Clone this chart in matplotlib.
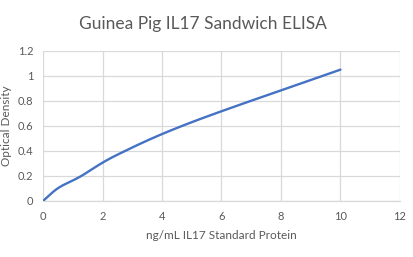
import matplotlib
matplotlib.use("Agg")
import matplotlib.pyplot as plt
import numpy as np

conc = [0, 0.3125, 0.625, 1.25, 2.5, 5, 10]
od = [0, 0.068, 0.12, 0.195, 0.37, 0.63, 1.05]
xticks = [0, 2, 4, 6, 8, 10, 12]
yticks = [0, 0.2, 0.4, 0.6, 0.8, 1, 1.2]
title = "Guinea Pig IL17 Sandwich ELISA"
xlabel = "ng/mL IL17 Standard Protein"
ylabel = "Optical Density"

plt.rcParams['font.family'] = ['Lato', 'DejaVu Sans']
gray = '#595959'
grid = '#d9d9d9'

def smooth(x, y, n=30):
    # Catmull-Rom style smoothing like Excel's smoothed line
    x = np.asarray(x, float); y = np.asarray(y, float)
    px = np.concatenate([[2*x[0]-x[1]], x, [2*x[-1]-x[-2]]])
    py = np.concatenate([[2*y[0]-y[1]], y, [2*y[-1]-y[-2]]])
    xs, ys = [], []
    for i in range(1, len(px)-2):
        p0, p1, p2, p3 = [np.array([px[j], py[j]]) for j in range(i-1, i+3)]
        c1 = p1 + (p2 - p0) / 6
        c2 = p2 - (p3 - p1) / 6
        t = np.linspace(0, 1, n)[:, None]
        b = (1-t)**3*p1 + 3*(1-t)**2*t*c1 + 3*(1-t)*t**2*c2 + t**3*p2
        xs.extend(b[:, 0]); ys.extend(b[:, 1])
    return xs, ys

fig = plt.figure(figsize=(4.14, 2.57), dpi=100)
ax = fig.add_axes([0.104, 0.218, 0.862, 0.584])
sx, sy = smooth(conc, od)
ax.plot(sx, sy, color='#4472C4', lw=1.7, solid_capstyle='round', zorder=3)
ax.set_xlim(0, 12)
ax.set_ylim(0, 1.2)
ax.set_xticks(xticks)
ax.set_yticks(yticks)
ax.set_xticklabels([str(v) for v in xticks])
ax.set_yticklabels(['0', '0.2', '0.4', '0.6', '0.8', '1', '1.2'])
ax.grid(True, color=grid, lw=0.9)
ax.set_axisbelow(True)
for s in ['top', 'right', 'left']:
    ax.spines[s].set_visible(False)
ax.spines['bottom'].set_color(grid)
ax.spines['bottom'].set_linewidth(0.9)
ax.tick_params(length=0, colors=gray, labelsize=8, pad=7)
ax.set_xlabel(xlabel, color=gray, fontsize=8.5, labelpad=6)
fig.text(7/414, 1 - 126/257, ylabel, rotation=90, ha='center', va='center',
         color=gray, fontsize=8.5)
fig.text(0.49, 0.905, title, ha='center', va='center', color=gray, fontsize=12.5)
fig.savefig('out.png', dpi=100)
